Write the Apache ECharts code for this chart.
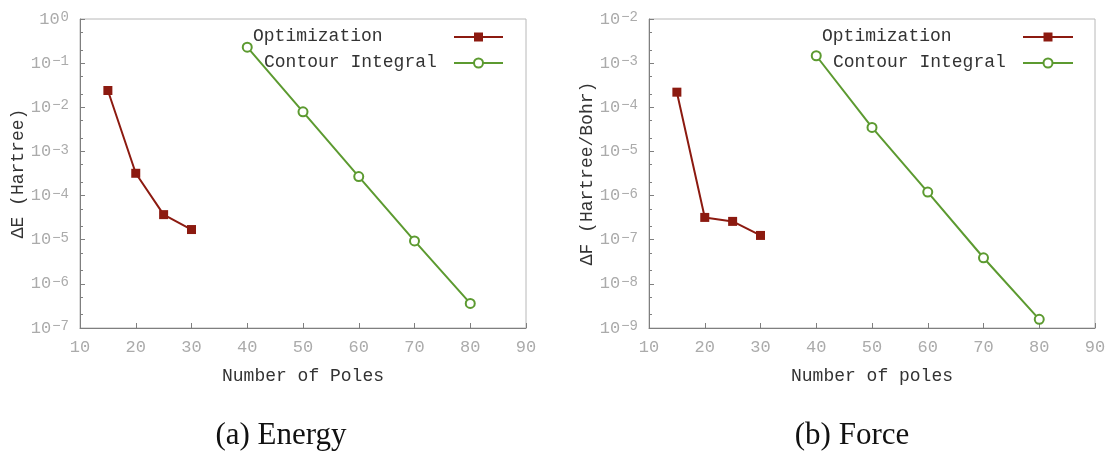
<!DOCTYPE html>
<html>
<head>
<meta charset="utf-8">
<script src="https://cdn.jsdelivr.net/npm/echarts@6/dist/echarts.min.js"></script>
<style>
  html, body { margin: 0; padding: 0; background: #ffffff; }
  #chart { width: 1110px; height: 452px; }
</style>
</head>
<body>
<div id="chart"></div>
<script>
// Number of poles used by each method
const optPoles = [15, 20, 25, 30];
const ciPoles = [40, 50, 60, 70, 80];

// Energy error (Hartree)
const energyOpt = [2.4e-2, 3.2e-4, 3.7e-5, 1.7e-5];
const energyCI = [2.3e-1, 7.9e-3, 2.7e-4, 9.4e-6, 3.6e-7];

// Force error (Hartree/Bohr)
const forceOpt = [2.2e-4, 3.2e-7, 2.6e-7, 1.25e-7];
const forceCI = [1.47e-3, 3.5e-5, 1.2e-6, 3.9e-8, 1.57e-9];

// Axis ranges
const xRange = [10, 90];
const energyRange = [1e-7, 1];
const forceRange = [1e-9, 1e-2];

const seriesNames = ['Optimization', 'Contour Integral'];
const panelTitles = ['(a) Energy', '(b) Force'];
const xTitles = ['Number of Poles', 'Number of poles'];
const yTitles = ['\u0394E (Hartree)', '\u0394F (Hartree/Bohr)'];

const MONO = '"Liberation Mono", "DejaVu Sans Mono", monospace';
const TICK_COLOR = '#ababab';
const AXIS_COLOR = '#7f7f7f';
const FRAME_COLOR = '#b8b8b8';
const TEXT_COLOR = '#333333';
const RED = '#8c1a10';
const GREEN = '#5c9a30';

const panels = [
  { left: 80, top: 19, width: 446, height: 309, range: energyRange, opt: energyOpt, ci: energyCI, nameGap: 51 },
  { left: 649, top: 19, width: 446, height: 309, range: forceRange, opt: forceOpt, ci: forceCI, nameGap: 53 }
];

// minor ticks at 2 and 5 in every decade
function minorTicks(range) {
  const out = [];
  const lo = Math.round(Math.log10(range[0]));
  const hi = Math.round(Math.log10(range[1]));
  for (let k = lo; k < hi; k++) {
    out.push(2 * Math.pow(10, k), 5 * Math.pow(10, k));
  }
  return out;
}

function powLabel(v) {
  const e = Math.round(Math.log10(v));
  const s = e < 0 ? '\u2212' + (-e) : String(e);
  return '{b|10}{s|' + s + '}';
}

const zip = (xs, ys) => xs.map((x, i) => [x, ys[i]]);

const grid = [], xAxis = [], yAxis = [], series = [], graphic = [];

panels.forEach((p, i) => {
  grid.push({
    left: p.left, top: p.top, width: p.width, height: p.height,
    show: true, borderColor: FRAME_COLOR, borderWidth: 1, backgroundColor: 'transparent'
  });
  xAxis.push({
    type: 'value', gridIndex: i, min: xRange[0], max: xRange[1], interval: 10,
    name: xTitles[i], nameLocation: 'middle', nameGap: 39,
    nameTextStyle: { fontFamily: MONO, fontSize: 18, color: TEXT_COLOR },
    axisLine: { show: true, lineStyle: { color: AXIS_COLOR, width: 1 } },
    axisTick: { show: true, inside: true, length: 5, lineStyle: { color: AXIS_COLOR } },
    axisLabel: { fontFamily: MONO, fontSize: 17, color: TICK_COLOR, margin: 11,
                 showMinLabel: true, showMaxLabel: true },
    splitLine: { show: false }
  });
  // main logarithmic axis with decade labels
  yAxis.push({
    type: 'log', logBase: 10, gridIndex: i, min: p.range[0], max: p.range[1], interval: 1,
    name: yTitles[i], nameLocation: 'middle', nameGap: p.nameGap,
    nameTextStyle: { fontFamily: MONO, fontSize: 18, color: TEXT_COLOR },
    axisLine: { show: true, lineStyle: { color: AXIS_COLOR, width: 1 } },
    axisTick: { show: true, inside: true, length: 5, lineStyle: { color: AXIS_COLOR } },
    axisLabel: {
      margin: 11, formatter: powLabel, showMinLabel: true, showMaxLabel: true,
      rich: {
        b: { fontFamily: MONO, fontSize: 17, color: TICK_COLOR, lineHeight: 17,
             padding: [7, 0, 0, 0], verticalAlign: 'bottom' },
        s: { fontFamily: MONO, fontSize: 14, color: TICK_COLOR, lineHeight: 14,
             padding: [0, 0, 0, 1], verticalAlign: 'top' }
      }
    },
    splitLine: { show: false }
  });
  // overlay axis carrying the 2x and 5x minor ticks
  yAxis.push({
    type: 'log', logBase: 10, gridIndex: i, min: p.range[0], max: p.range[1], position: 'left',
    axisLine: { show: false },
    axisLabel: { show: false },
    axisTick: { show: true, inside: true, length: 3, customValues: minorTicks(p.range),
                lineStyle: { color: AXIS_COLOR } },
    splitLine: { show: false }
  });

  series.push({
    name: seriesNames[0], type: 'line', xAxisIndex: i, yAxisIndex: 2 * i,
    data: zip(optPoles, p.opt), symbol: 'rect', symbolSize: 9,
    color: RED, lineStyle: { width: 2, color: RED }, itemStyle: { color: RED },
    animation: false
  });
  series.push({
    name: seriesNames[1], type: 'line', xAxisIndex: i, yAxisIndex: 2 * i,
    data: zip(ciPoles, p.ci), symbol: 'circle', symbolSize: 9,
    color: GREEN, lineStyle: { width: 2, color: GREEN },
    itemStyle: { color: '#ffffff', borderColor: GREEN, borderWidth: 2 },
    animation: false
  });
});

// key boxes inside each panel
const keys = [
  { textX: [253, 264], lineX: [454, 503] },
  { textX: [822, 833], lineX: [1023, 1073] }
];
const keyY = [37, 63];
keys.forEach(k => {
  seriesNames.forEach((name, j) => {
    graphic.push({
      type: 'text', left: k.textX[j], top: keyY[j] - 10,
      style: { text: name, fontFamily: MONO, fontSize: 18, fill: TEXT_COLOR }
    });
    graphic.push({
      type: 'line',
      shape: { x1: k.lineX[0], y1: keyY[j], x2: k.lineX[1], y2: keyY[j] },
      style: { stroke: j === 0 ? RED : GREEN, lineWidth: 2 }
    });
    const cx = (k.lineX[0] + k.lineX[1]) / 2;
    if (j === 0) {
      graphic.push({ type: 'rect', shape: { x: cx - 4.5, y: keyY[j] - 4.5, width: 9, height: 9 },
                     style: { fill: RED } });
    } else {
      graphic.push({ type: 'circle', shape: { cx: cx, cy: keyY[j], r: 4.5 },
                     style: { fill: '#ffffff', stroke: GREEN, lineWidth: 2 } });
    }
  });
});

// sub-figure captions
[281, 852].forEach((cx, i) => {
  graphic.push({
    type: 'text', x: cx, y: 436,
    style: { text: panelTitles[i], fontFamily: '"Liberation Serif", "DejaVu Serif", serif',
             fontSize: 31, fill: '#111111', align: 'center', verticalAlign: 'middle' }
  });
});

const chart = echarts.init(document.getElementById('chart'), null, { renderer: 'canvas' });
chart.setOption({
  animation: false,
  backgroundColor: '#ffffff',
  grid, xAxis, yAxis, series, graphic
});
</script>
</body>
</html>
